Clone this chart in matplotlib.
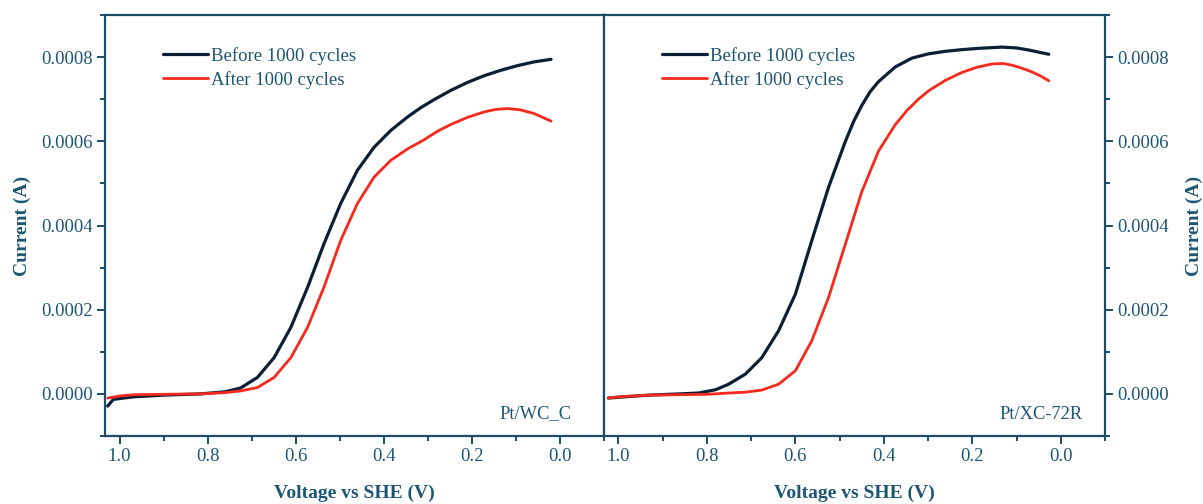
import matplotlib
matplotlib.use("Agg")
import matplotlib.pyplot as plt
from matplotlib.ticker import MultipleLocator, FormatStrFormatter

# ---- data ----
wc_before_v = [1.027, 1.014, 0.968, 0.90, 0.816, 0.760, 0.725, 0.687, 0.649, 0.611, 0.573, 0.536,
               0.498, 0.460, 0.422, 0.384, 0.346, 0.316, 0.286, 0.248, 0.210, 0.172, 0.134, 0.096,
               0.058, 0.020]
wc_before_i = [-2.9e-5, -1.3e-5, -7e-6, -3e-6, 0.0, 5e-6, 1.4e-5, 3.9e-5, 8.6e-5, 1.58e-4, 2.53e-4, 3.56e-4,
               4.52e-4, 5.31e-4, 5.86e-4, 6.26e-4, 6.58e-4, 6.80e-4, 6.99e-4, 7.21e-4, 7.40e-4, 7.56e-4, 7.69e-4, 7.80e-4,
               7.89e-4, 7.95e-4]
wc_after_v = [1.027, 1.000, 0.968, 0.90, 0.816, 0.760, 0.725, 0.687, 0.649, 0.611, 0.573, 0.536,
              0.498, 0.460, 0.422, 0.384, 0.346, 0.308, 0.278, 0.248, 0.210, 0.172, 0.145, 0.119,
              0.090, 0.058, 0.020]
wc_after_i = [-1.0e-5, -5e-6, -2e-6, -1e-6, 0.0, 3e-6, 7e-6, 1.5e-5, 3.9e-5, 8.6e-5, 1.58e-4, 2.53e-4,
              3.64e-4, 4.52e-4, 5.15e-4, 5.55e-4, 5.82e-4, 6.04e-4, 6.24e-4, 6.40e-4, 6.57e-4, 6.70e-4, 6.76e-4, 6.78e-4,
              6.75e-4, 6.66e-4, 6.48e-4]

xc_before_v = [1.023, 1.000, 0.932, 0.860, 0.819, 0.780, 0.751, 0.713, 0.676, 0.638, 0.600, 0.563,
               0.525, 0.487, 0.468, 0.450, 0.431, 0.412, 0.374, 0.336, 0.299, 0.261, 0.223, 0.186, 0.133, 0.100,
               0.072, 0.050, 0.027]
xc_before_i = [-1.0e-5, -8e-6, -3e-6, 0.0, 2e-6, 1.0e-5, 2.3e-5, 4.7e-5, 8.6e-5, 1.5e-4, 2.37e-4, 3.64e-4,
               4.91e-4, 6.0e-4, 6.48e-4, 6.85e-4, 7.18e-4, 7.42e-4, 7.77e-4, 7.98e-4, 8.08e-4, 8.14e-4, 8.18e-4, 8.21e-4, 8.24e-4, 8.22e-4,
               8.17e-4, 8.12e-4, 8.07e-4]
xc_after_v = [1.023, 1.000, 0.932, 0.860, 0.800, 0.751, 0.713, 0.676, 0.638, 0.600, 0.563, 0.525,
              0.487, 0.450, 0.412, 0.374, 0.348, 0.322, 0.299, 0.261, 0.223, 0.190, 0.155, 0.130,
              0.110, 0.088, 0.065, 0.045, 0.027]
xc_after_i = [-1.0e-5, -7e-6, -3e-6, -2e-6, -1e-6, 2e-6, 4e-6, 9e-6, 2.3e-5, 5.5e-5, 1.26e-4, 2.29e-4,
              3.56e-4, 4.80e-4, 5.77e-4, 6.40e-4, 6.73e-4, 7.00e-4, 7.20e-4, 7.45e-4, 7.64e-4, 7.76e-4, 7.84e-4, 7.85e-4,
              7.81e-4, 7.74e-4, 7.65e-4, 7.55e-4, 7.44e-4]

series_labels = ["Before 1000 cycles", "After 1000 cycles"]
panel_names = ["Pt/WC_C", "Pt/XC-72R"]
x_ticks = [1.0, 0.8, 0.6, 0.4, 0.2, 0.0]
y_ticks = [0.0, 0.0002, 0.0004, 0.0006, 0.0008]

# ---- style ----
plt.rcParams['font.family'] = ['Liberation Serif', 'DejaVu Serif']
axis_col = "#1d4c66"
text_col = "#1d5574"
before_col = "#0c1f36"
after_col = "#f52a1c"

fig = plt.figure(figsize=(12.03, 5.04), dpi=100)
ax1 = fig.add_axes([0.0873, 0.135, 0.4147, 0.835])
ax2 = fig.add_axes([0.5020, 0.135, 0.4165, 0.835])

panels = [(ax1, wc_before_v, wc_before_i, wc_after_v, wc_after_i, panel_names[0], 0.936),
          (ax2, xc_before_v, xc_before_i, xc_after_v, xc_after_i, panel_names[1], 0.956)]

for ax, bv, bi, av, ai, name, nx in panels:
    ax.plot(bv, bi, color=before_col, lw=2.3, label=series_labels[0],
            solid_joinstyle='round', solid_capstyle='round')
    ax.plot(av, ai, color=after_col, lw=2.0, label=series_labels[1],
            solid_joinstyle='round', solid_capstyle='round')
    ax.set_xlim(1.033, -0.1)
    ax.set_ylim(-0.0001, 0.0009)
    ax.set_xticks(x_ticks)
    ax.xaxis.set_minor_locator(MultipleLocator(0.1))
    ax.xaxis.set_major_formatter(FormatStrFormatter('%.1f'))
    ax.set_yticks(y_ticks)
    ax.yaxis.set_minor_locator(MultipleLocator(0.0001))
    ax.yaxis.set_major_formatter(FormatStrFormatter('%.4f'))
    for s in ax.spines.values():
        s.set_color(axis_col)
        s.set_linewidth(1.6)
    ax.tick_params(which='major', direction='out', length=6, width=1.4, color=axis_col,
                   labelcolor=text_col, labelsize=13.5, pad=3)
    ax.tick_params(which='minor', direction='out', length=3.5, width=1.4, color=axis_col)
    ax.tick_params(axis='x', which='both', top=False)
    ax.set_xlabel("Voltage vs SHE (V)", fontsize=14, fontweight='bold', color=text_col, labelpad=14)
    ax.text(nx, 0.052, name, transform=ax.transAxes, ha='right', va='center',
            fontsize=13.3, color=text_col)
    leg = ax.legend(loc='upper left', bbox_to_anchor=(0.09, 0.955), frameon=False,
                    fontsize=13.5, handlelength=2.4, handletextpad=0.15, labelspacing=0.32,
                    borderaxespad=0.3)
    for t in leg.get_texts():
        t.set_color(text_col)

ax1.tick_params(axis='y', which='both', left=True, right=False)
ax1.set_ylabel("Current (A)", fontsize=14, fontweight='bold', color=text_col, labelpad=7)
ax2.yaxis.tick_right()
ax2.yaxis.set_label_position('right')
ax2.tick_params(axis='y', which='both', left=False, right=True)
ax2.set_ylabel("Current (A)", fontsize=14, fontweight='bold', color=text_col, labelpad=12,
               rotation=90)

fig.savefig("out.png", dpi=100)
